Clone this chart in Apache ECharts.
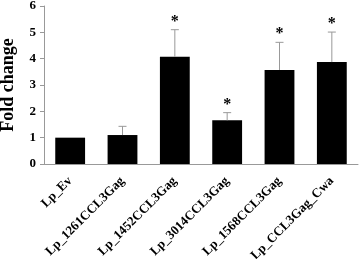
<!DOCTYPE html>
<html><head><meta charset="utf-8">
<script src="https://cdn.jsdelivr.net/npm/echarts@6/dist/echarts.min.js"></script>
<style>html,body{margin:0;padding:0;background:#fff}#c{width:359px;height:259px}</style>
</head><body><div id="c"></div>
<script>
var categories = ["Lp_Ev","Lp_1261CCL3Gag","Lp_1452CCL3Gag","Lp_3014CCL3Gag","Lp_1568CCL3Gag","Lp_CCL3Gag_Cwa"];
var foldChange = [1.0, 1.10, 4.07, 1.66, 3.57, 3.87];
var errorTop = [1.0, 1.43, 5.10, 1.95, 4.62, 5.01];
var significance = ["", "", "*", "*", "*", "*"];
var yTicks = [0,1,2,3,4,5,6];

var font = '"Liberation Serif","Times New Roman",serif';
var chart = echarts.init(document.getElementById('c'), null, {renderer:'canvas'});
chart.setOption({
  animation:false,
  grid:{left:44,top:6,right:1,bottom:95,containLabel:false,outerBoundsMode:'none'},
  xAxis:{type:'category',data:categories,
    axisLine:{lineStyle:{color:'#999',width:1}},
    axisTick:{show:false},
    axisLabel:{rotate:45,interval:0,fontFamily:font,fontWeight:'bold',fontSize:13,color:'#000',margin:15}},
  yAxis:{type:'value',min:yTicks[0],max:yTicks[yTicks.length-1],interval:1,
    name:'Fold change',nameLocation:'middle',nameGap:27,nameRotate:90,
    nameTextStyle:{fontFamily:font,fontWeight:'bold',fontSize:18,color:'#000'},
    axisLine:{show:true,lineStyle:{color:'#999',width:1}},
    axisTick:{show:true,length:4,lineStyle:{color:'#999'}},
    splitLine:{show:false},
    axisLabel:{fontFamily:font,fontWeight:'bold',fontSize:13,color:'#000',margin:8}},
  series:[
    {type:'bar',data:foldChange,barWidth:'57%',itemStyle:{color:'#000'},z:2},
    {type:'custom',z:3,data:categories.map(function(c,i){return [i,foldChange[i],errorTop[i]];}),
      renderItem:function(params,api){
        var x=api.coord([api.value(0),0])[0];
        var y0=api.coord([api.value(0),api.value(1)])[1];
        var y1=api.coord([api.value(0),api.value(2)])[1];
        var children=[];
        if(api.value(2)>api.value(1)){
          children.push({type:'line',shape:{x1:x,y1:y0,x2:x,y2:y1},style:{stroke:'#999',lineWidth:1}});
          children.push({type:'line',shape:{x1:x-4,y1:y1,x2:x+4,y2:y1},style:{stroke:'#999',lineWidth:1}});
        }
        var s=significance[params.dataIndex];
        if(s){children.push({type:'text',style:{text:s,x:x,y:y1,align:'center',verticalAlign:'bottom',font:'bold 16px '+font,fill:'#000'}});}
        return {type:'group',children:children};
      }}
  ]
});
</script></body></html>
